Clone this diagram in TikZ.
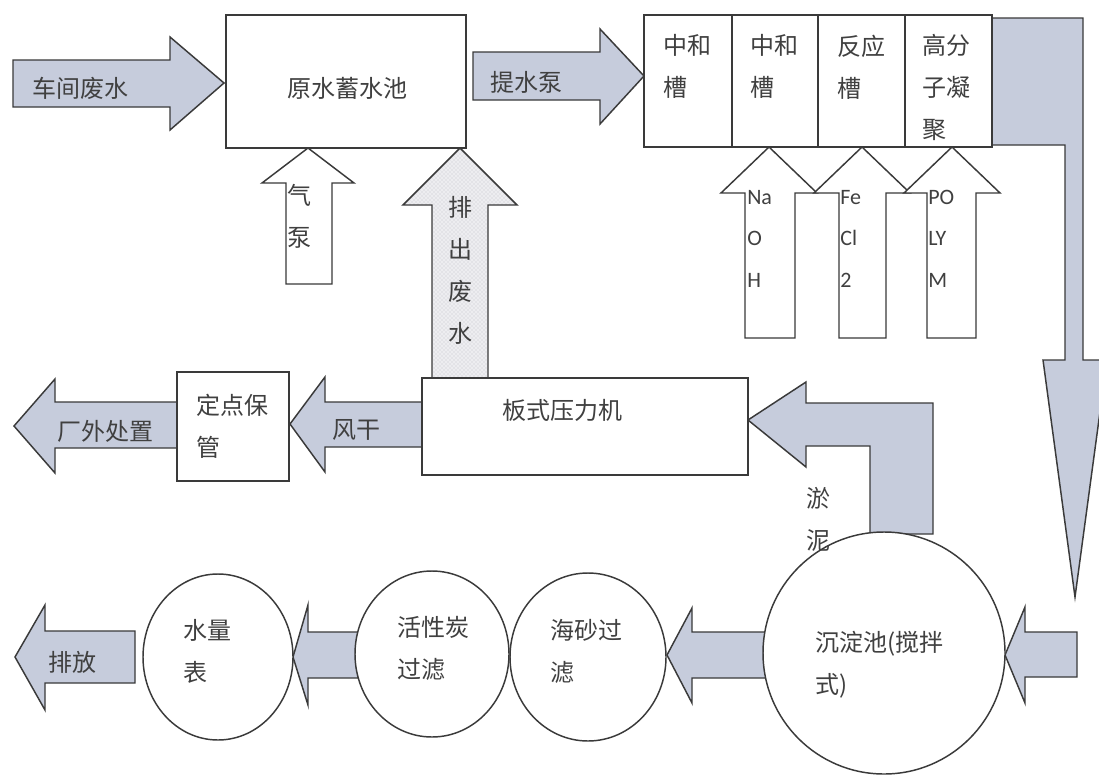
\documentclass[tikz,border=0pt]{standalone}
\usepackage{fontspec}
\newfontfamily\cjk{Noto Sans CJK SC}
\newfontfamily\lat{Carlito}
\usetikzlibrary{patterns,fit,shapes.geometric}
\definecolor{arrowc}{HTML}{C6CCDC}
\definecolor{linec}{HTML}{3A3A3A}
\definecolor{txtc}{HTML}{404040}
\definecolor{dotbg}{HTML}{EDEDF0}
\definecolor{dotfg}{HTML}{C4C4CA}
\begin{document}
\begin{tikzpicture}[x=0.75pt,y=-0.75pt,
  outline/.style={draw=linec,line width=1.1pt,line join=miter},
  barrow/.style={outline,fill=arrowc},
  warrow/.style={outline,fill=white},
  darrow/.style={outline,preaction={fill=dotbg},pattern=crosshatch dots,pattern color=dotfg},
  box/.style={outline,fill=white,inner sep=0pt},
  ring/.style={outline,fill=white,ellipse,inner sep=0pt},
  lbl/.style={text=txtc,font=\cjk\fontsize{18}{31.5}\selectfont,inner sep=0pt,align=left},
  chem/.style={text=txtc,font=\lat\fontsize{16.5}{31}\selectfont,inner sep=0pt,align=left}]
\useasboundingbox (0,0) rectangle (1099,778);
\clip (0,0) rectangle (1099,778);
\fill[white] (0,0) rectangle (1099,778);

% ---- block arrows (drawn first, nodes cover their ends)
\draw[barrow] (13,60) -- (170,60) -- (170,37) -- (224,83) -- (170,130) -- (170,107) -- (13,107) -- cycle;
\draw[warrow] (286,284) -- (286,183) -- (262,183) -- (308,148) -- (354,183) -- (332,183) -- (332,284) -- cycle;
\draw[darrow] (432,378) -- (432,205) -- (403,205) -- (460,148) -- (517,205) -- (488,205) -- (488,378) -- cycle;
\draw[barrow] (473,52) -- (600,52) -- (600,29) -- (644,76) -- (600,124) -- (600,100) -- (473,100) -- cycle;
\draw[warrow] (745,338) -- (745,193) -- (721,193) -- (769,147) -- (817,193) -- (795,193) -- (795,338) -- cycle;
\draw[warrow] (839,338) -- (839,193) -- (814,193) -- (862,147) -- (910,193) -- (886,193) -- (886,338) -- cycle;
\draw[warrow] (927,338) -- (927,193) -- (904,193) -- (952,147) -- (1000,193) -- (976,193) -- (976,338) -- cycle;
\draw[barrow] (992,18) -- (1083,18) -- (1083,360) -- (1107,360) -- (1075,597) -- (1043,360) -- (1065,360) -- (1065,145) -- (992,145) -- cycle;
\draw[barrow] (748,420) -- (806,382) -- (806,403) -- (933,403) -- (933,534) -- (870,534) -- (870,446) -- (806,446) -- (806,467) -- cycle;
\draw[barrow] (422,402) -- (325,402) -- (325,377) -- (290,424) -- (325,472) -- (325,447) -- (422,447) -- cycle;
\draw[barrow] (177,402) -- (55,402) -- (55,379) -- (14,426) -- (55,473) -- (55,448) -- (177,448) -- cycle;
\draw[barrow] (1077,632) -- (1025,632) -- (1025,607) -- (1005,655) -- (1025,703) -- (1025,677) -- (1077,677) -- cycle;
\draw[barrow] (766,632) -- (692,632) -- (692,608) -- (667,655) -- (692,703) -- (692,678) -- (766,678) -- cycle;
\draw[barrow] (358,632) -- (308,632) -- (308,605) -- (293,657) -- (308,705) -- (308,678) -- (358,678) -- cycle;
\draw[barrow] (135,631) -- (45,631) -- (45,605) -- (15,657) -- (45,710) -- (45,683) -- (135,683) -- cycle;

% ---- boxes
\node[box,fit={(226,15)(466,148)}] (raw) {};
\node[box,fit={(644,15)(732,147)}] (t1) {};
\node[box,fit={(732,15)(818,147)}] (t2) {};
\node[box,fit={(818,15)(905,147)}] (t3) {};
\node[box,fit={(905,15)(992,147)}] (t4) {};
\node[box,fit={(422,378)(748,475)}] (press) {};
\node[box,fit={(177,372)(289,481)}] (store) {};

% ---- tanks (circles)
\node[ring,minimum width=181.5pt,minimum height=181.5pt] (settle) at (884,653) {};
\node[ring,minimum width=117pt,minimum height=126pt] (sand) at (588,657) {};
\node[ring,minimum width=115.5pt,minimum height=124.5pt] (carbon) at (432,654) {};
\node[ring,minimum width=112.5pt,minimum height=124.5pt] (meter) at (218,657) {};

% ---- labels
\node[lbl] (lwaste) at (80,88) {车间废水};
\node[lbl] (lraw) at (347,88) {原水蓄水池};
\node[lbl,anchor=north west] (lair) at (287,184) {气\\泵};
\node[lbl,anchor=north,align=center] (ldis) at (460,196) {排\\出\\废\\水};
\node[lbl] (lpump) at (526,82) {提水泵};
\node[lbl,anchor=north west] (lt1) at (663,34) {中和\\槽};
\node[lbl,anchor=north west] (lt2) at (750,34) {中和\\槽};
\node[lbl,anchor=north west] (lt3) at (837,35) {反应\\槽};
\node[lbl,anchor=north west] (lt4) at (922,34) {高分\\子凝\\聚};
\node[chem,anchor=north west] (lnaoh) at (747,190) {Na\\O\\H};
\node[chem,anchor=north west] (lfecl) at (840,190) {Fe\\Cl\\2};
\node[chem,anchor=north west] (lpoly) at (928,190) {PO\\LY\\M};
\node[lbl] (lpress) at (562,410) {板式压力机};
\node[lbl,anchor=north,align=center] (lsludge) at (818,487) {淤\\泥};
\node[lbl,anchor=north west] (lstore) at (196,394) {定点保\\管};
\node[lbl] (ldry) at (356,430) {风干};
\node[lbl] (lout) at (105,431) {厂外处置};
\node[lbl,anchor=north west] (lsettle) at (815,631) {沉淀池(搅拌\\式)};
\node[lbl,anchor=north west] (lsand) at (550,619) {海砂过\\滤};
\node[lbl,anchor=north west] (lcarbon) at (397,616) {活性炭\\过滤};
\node[lbl,anchor=north west] (lmeter) at (183,619) {水量\\表};
\node[lbl] (lrelease) at (72,662) {排放};
\end{tikzpicture}
\end{document}
